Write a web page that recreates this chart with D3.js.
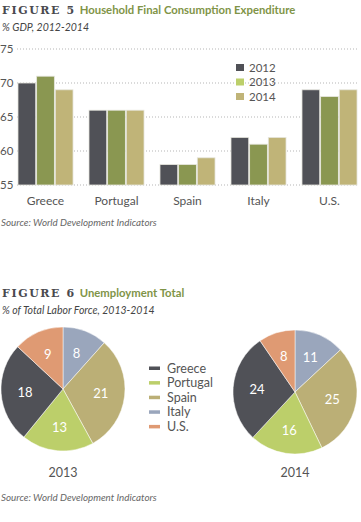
<!DOCTYPE html>
<html>
<head>
<meta charset="utf-8">
<script src="https://cdn.jsdelivr.net/npm/d3@7"></script>
<style>
  body { margin: 0; background: #fff; }
  svg text { font-family: Lato, "Open Sans", sans-serif; }
</style>
</head>
<body>
<div id="window"></div>
<script>
// figure 5 data
let countries = ["Greece", "Portugal", "Spain", "Italy", "U.S."];
let years = ["2012", "2013", "2014"];
let gdp2012 = [70, 66, 58, 62, 69];
let gdp2013 = [71, 66, 58, 61, 68];
let gdp2014 = [69, 66, 59, 62, 69];
let yTicks = [55, 60, 65, 70, 75];

// figure 6 data (slice order clockwise from top)
let pieCountries = ["Italy", "Spain", "Portugal", "Greece", "U.S."];
let unemp2013 = [8, 21, 13, 18, 9];
let unemp2014 = [11, 25, 16, 24, 8];
let legendOrder = ["Greece", "Portugal", "Spain", "Italy", "U.S."];

let w = 361, h = 522;
let svg = d3.select("#window").append("svg")
    .attr("width", w)
    .attr("height", h);

let barColors = { "2012": "#505157", "2013": "#8a9751", "2014": "#c0b478" };
let legendBarColors = { "2012": "#505157", "2013": "#bccf6a", "2014": "#c0b478" };
let pieColors = { "Greece": "#505157", "Portugal": "#bccf6a", "Spain": "#bbaf76", "Italy": "#9aa6bc", "U.S.": "#df9a73" };

function title(y, fig, name, sub) {
    let t = svg.append("text").attr("x", 2).attr("y", y);
    t.append("tspan").text(fig)
        .style("font-family", "'DejaVu Serif', serif")
        .attr("font-weight", "bold")
        .attr("font-size", 11)
        .attr("letter-spacing", 1.6)
        .attr("fill", "#4a4a4f");
    t.append("tspan").text(name)
        .attr("dx", 4)
        .attr("font-weight", "bold")
        .attr("font-size", 11.3)
        .attr("fill", "#7f9447");
    svg.append("text").attr("x", 2).attr("y", y + 17)
        .attr("font-style", "italic")
        .attr("font-size", 10.5)
        .attr("fill", "#444")
        .text(sub);
}

// ---- figure 5 ----
title(14, "FIGURE 5", "Household Final Consumption Expenditure", "% GDP, 2012-2014");

let x0 = d3.scaleBand().domain(countries).range([10, 365]).paddingInner(0.225).paddingOuter(0.1125);
let x1 = d3.scaleBand().domain(years).range([0, x0.bandwidth()]).paddingInner(0.05);
let y = d3.scaleLinear().domain([55, 75]).range([185, 49]);

// dotted grid
svg.append("g").selectAll("line").data(yTicks).enter().append("line")
    .attr("x1", 17).attr("x2", 358)
    .attr("y1", d => y(d)).attr("y2", d => y(d))
    .attr("stroke", "#b5b5b5")
    .attr("stroke-width", 1)
    .attr("stroke-dasharray", "1,2");

svg.append("g").selectAll("text").data(yTicks).enter().append("text")
    .attr("x", 0).attr("y", d => y(d) + 4)
    .attr("font-size", 11.5)
    .attr("fill", "#555")
    .text(d => d);

let series = { "2012": gdp2012, "2013": gdp2013, "2014": gdp2014 };
years.forEach(yr => {
    svg.append("g").selectAll("rect").data(series[yr]).enter().append("rect")
        .attr("x", (d, i) => x0(countries[i]) + x1(yr))
        .attr("y", d => y(d))
        .attr("width", x1.bandwidth())
        .attr("height", d => y(55) - y(d))
        .attr("fill", barColors[yr])
        .attr("stroke", "#e6e6de")
        .attr("stroke-width", 0.8);
});

svg.append("g").selectAll("text").data(countries).enter().append("text")
    .attr("x", d => x0(d) + x0.bandwidth() / 2)
    .attr("y", 205)
    .attr("text-anchor", "middle")
    .attr("font-size", 12)
    .attr("fill", "#555")
    .text(d => d);

// legend
let lg = svg.append("g").attr("transform", "translate(236,64)");
years.forEach((yr, i) => {
    lg.append("rect").attr("x", 0).attr("y", i * 14.5).attr("width", 8).attr("height", 7)
        .attr("fill", legendBarColors[yr]);
    lg.append("text").attr("x", 13).attr("y", i * 14.5 + 7.5)
        .attr("font-size", 11.5).attr("fill", "#555").text(yr);
});

svg.append("text").attr("x", 1).attr("y", 226)
    .attr("font-style", "italic").attr("font-size", 9.8).attr("fill", "#666")
    .text("Source: World Development Indicators");

// ---- figure 6 ----
title(297, "FIGURE 6", "Unemployment Total", "% of Total Labor Force, 2013-2014");

let pie = d3.pie().sort(null).value(d => d.v);
let arc = d3.arc().innerRadius(0).outerRadius(62);
let labelArc = d3.arc().innerRadius(38).outerRadius(38);

function drawPie(cx, cy, vals, year) {
    let data = pieCountries.map((c, i) => ({ c: c, v: vals[i] }));
    let g = svg.append("g").attr("transform", "translate(" + cx + "," + cy + ")");
    let arcs = pie(data);
    g.selectAll("path").data(arcs).enter().append("path")
        .attr("d", arc)
        .attr("fill", d => pieColors[d.data.c])
        .attr("stroke", "#fff")
        .attr("stroke-width", 0.5);
    g.selectAll("text").data(arcs).enter().append("text")
        .attr("transform", d => "translate(" + labelArc.centroid(d) + ")")
        .attr("dy", 5)
        .attr("text-anchor", "middle")
        .attr("font-size", 13)
        .attr("fill", "#fff")
        .text(d => d.data.v);
    svg.append("text").attr("x", cx).attr("y", 477)
        .attr("text-anchor", "middle")
        .attr("font-size", 12.5).attr("fill", "#555")
        .text(year);
}
drawPie(63, 389, unemp2013, "2013");
drawPie(295, 392, unemp2014, "2014");

let pl = svg.append("g").attr("transform", "translate(149,368)");
legendOrder.forEach((c, i) => {
    pl.append("rect").attr("x", 0).attr("y", i * 14.6 - 1.5).attr("width", 11).attr("height", 3.5)
        .attr("fill", pieColors[c]);
    pl.append("text").attr("x", 18).attr("y", i * 14.6 + 4.5)
        .attr("font-size", 12.5).attr("fill", "#555").text(c);
});

svg.append("text").attr("x", 1).attr("y", 501)
    .attr("font-style", "italic").attr("font-size", 9.8).attr("fill", "#666")
    .text("Source: World Development Indicators");
</script>
</body>
</html>
